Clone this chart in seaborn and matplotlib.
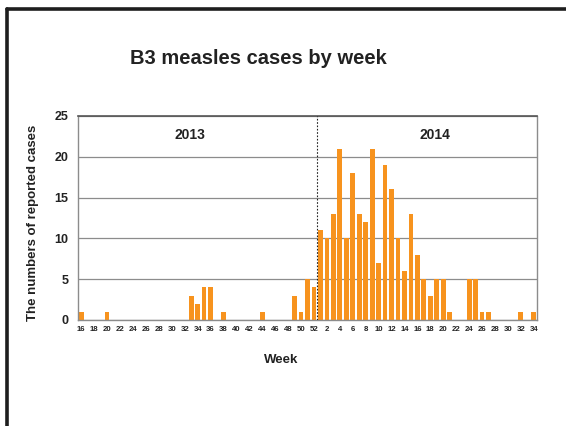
import numpy as np
import pandas as pd
import matplotlib
matplotlib.use("Agg")
import matplotlib.pyplot as plt
from matplotlib.lines import Line2D
import seaborn as sns

# ---------------------------------------------------------------------------
# Data: weekly B3 measles cases, week 16/2013 .. week 34/2014
# ---------------------------------------------------------------------------
weeks_2013 = list(range(16, 53))
cases_2013 = [1, 0, 0, 0, 1, 0, 0, 0, 0, 0, 0, 0, 0, 0, 0, 0, 0,
              3, 2, 4, 4, 0, 1, 0, 0, 0, 0, 0, 1, 0, 0, 0, 0,
              3, 1, 5, 4]
weeks_2014 = list(range(1, 35))
cases_2014 = [11, 10, 13, 21, 10, 18, 13, 12, 21, 7, 19, 16, 10, 6, 13, 8,
              5, 3, 5, 5, 1, 0, 0, 5, 5, 1, 1, 0, 0, 0, 0, 1, 0, 1]

C_BAR = "#F7931E"

df = pd.DataFrame({
    "key": [f"2013-{w}" for w in weeks_2013] + [f"2014-{w}" for w in weeks_2014],
    "week": weeks_2013 + weeks_2014,
    "cases": cases_2013 + cases_2014,
})

sns.set_style("white")
plt.rcParams["font.family"] = ["Liberation Sans", "DejaVu Sans"]

fig = plt.figure(figsize=(5.66, 4.26), dpi=100)
ax = fig.add_axes([78 / 566, 1 - 320 / 426, (537 - 78) / 566, (320 - 116) / 426])
ax.set_axisbelow(True)

sns.barplot(data=df, x="key", y="cases", order=df["key"], color=C_BAR,
            width=0.74, saturation=1, linewidth=0, ax=ax)

ax.set_ylim(0, 25)
ax.set_xlim(-0.5, len(df) - 0.5)
ax.set_yticks(range(0, 26, 5))
ax.set_yticklabels([str(v) for v in range(0, 26, 5)], fontsize=9, fontweight="bold", color="#222222")
ax.yaxis.grid(True, color="#8c8c8c", linewidth=0.9)

pos = np.arange(0, len(df), 2)
ax.set_xticks(pos)
ax.set_xticklabels([str(w) for w in df["week"].iloc[pos]], fontsize=5.6, fontweight="bold", color="#222222")
ax.set_xticks(np.arange(-0.5, len(df), 1), minor=True)
ax.tick_params(axis="x", which="major", length=0, pad=4)
ax.tick_params(axis="x", which="minor", length=3, color="#8c8c8c", width=0.8, direction="out")
ax.tick_params(axis="y", length=3, color="#8c8c8c", pad=4)
ax.set_xlabel("")
ax.set_ylabel("")

for side in ["left", "bottom", "right"]:
    ax.spines[side].set_color("#8c8c8c")
    ax.spines[side].set_linewidth(1.0)
ax.spines["top"].set_color("#555555")
ax.spines["top"].set_linewidth(1.2)

# divider between the two years
ax.axvline(len(weeks_2013) - 0.5, color="#222222", linestyle=(0, (1.5, 1.5)), linewidth=0.8, zorder=4)
ax.text(16.8, 22.7, "2013", ha="center", va="center", fontsize=10, fontweight="bold", color="#222222")
ax.text(54.7, 22.7, "2014", ha="center", va="center", fontsize=10, fontweight="bold", color="#222222")

fig.text(258 / 566, 1 - 58 / 426, "B3 measles cases by week", ha="center", va="center",
         fontsize=14.5, fontweight="bold", color="#222222")
fig.text(281 / 566, 1 - 360 / 426, "Week", ha="center", va="center",
         fontsize=9.5, fontweight="bold", color="#222222")
fig.text(33 / 566, 1 - 223 / 426, "The numbers of reported cases", ha="center", va="center",
         rotation=90, fontsize=9.5, fontweight="bold", color="#222222")

# page frame (top and left edges only)
fig.add_artist(Line2D([6.5 / 566, 1], [1 - 8.5 / 426, 1 - 8.5 / 426], color="#1e1e1e", linewidth=2.6))
fig.add_artist(Line2D([6.5 / 566, 6.5 / 566], [0, 1 - 8.5 / 426], color="#1e1e1e", linewidth=2.6))

fig.savefig("out.png", dpi=100)
plt.close(fig)
